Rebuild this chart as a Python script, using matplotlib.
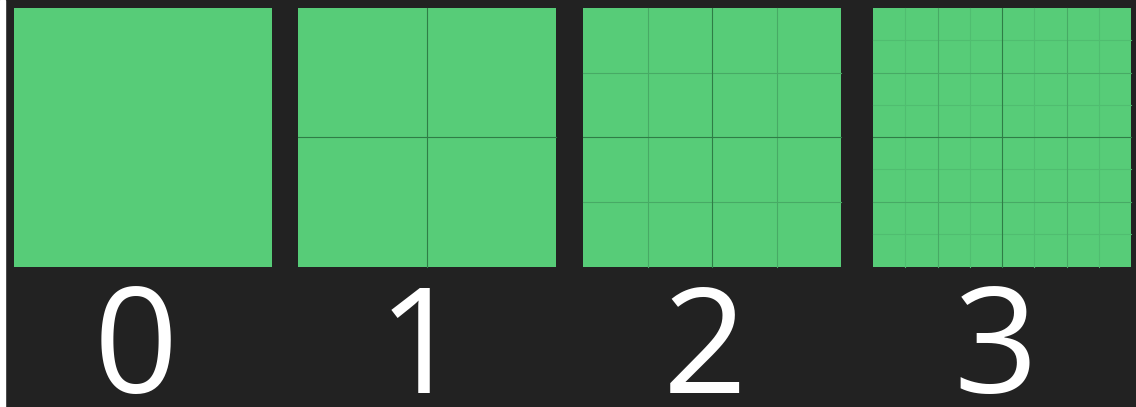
import matplotlib
matplotlib.use("Agg")
import matplotlib.pyplot as plt
from matplotlib.patches import Rectangle

# ---- data ----
levels = [0, 1, 2, 3]
labels = ["0", "1", "2", "3"]

# ---- style ----
BG = "#222222"
GREEN = "#57cc78"
LINE_COLORS = {1: "#2f7d46", 2: "#47aa65", 3: "#50bd70"}
W, H = 1136, 407

fig = plt.figure(figsize=(W / 100, H / 100), dpi=100, facecolor=BG)
ax = fig.add_axes([0, 0, 1, 1])
ax.set_xlim(0, W)
ax.set_ylim(H, 0)
ax.axis("off")
ax.set_facecolor(BG)
ax.add_patch(Rectangle((0, 0), W, H, color=BG, zorder=0))
# thin white strip at left edge
ax.add_patch(Rectangle((0, 0), 5, H, color="white", zorder=0.5))

lefts = [14, 298, 583, 873]
top, size = 8, 258

for lv, lab, x0 in zip(levels, labels, lefts):
    ax.add_patch(Rectangle((x0, top), size, size + 1, color=GREEN, zorder=1, lw=0))
    n = 2 ** lv
    for depth in range(lv, 0, -1):
        for k in range(1, n):
            d = lv
            kk = k
            while kk % 2 == 0:
                kk //= 2
                d -= 1
            if d != depth:
                continue
            pos = k / n * size
            c = LINE_COLORS[depth]
            ax.plot([x0 + pos, x0 + pos], [top, top + size + 1], color=c, lw=0.8, zorder=2 + (3 - depth))
            ax.plot([x0, x0 + size], [top + pos, top + pos], color=c, lw=0.8, zorder=2 + (3 - depth))
    ax.text(x0 + size / 2 - 7, 393, lab, color="white", ha="center", va="baseline",
            fontsize=106, family=["Open Sans", "DejaVu Sans"], zorder=5)

fig.savefig("out.png", dpi=100, facecolor=BG)
